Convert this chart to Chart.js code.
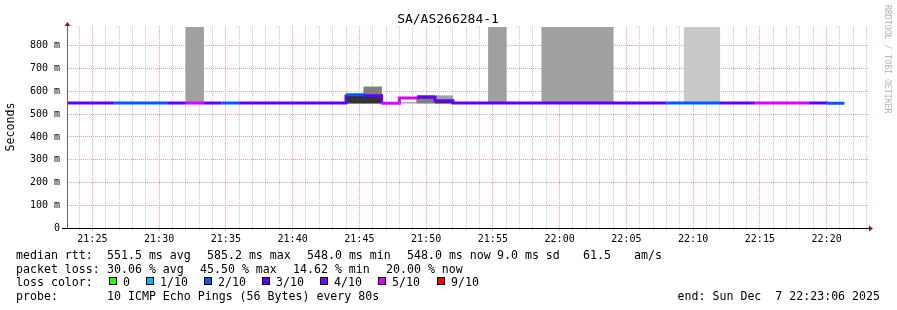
<!DOCTYPE html>
<html lang="pt-BR">
<head>
<meta charset="utf-8">
<title>SA/AS266284-1</title>
<script src="https://cdn.jsdelivr.net/npm/chart.js@4.4.1/dist/chart.umd.min.js"></script>
<style>
    html, body { margin: 0; padding: 0; background: #ffffff; }
    canvas { display: block; }
</style>
</head>
<body>
<canvas id="grafico-smokeping" width="897" height="310"></canvas>
<script>
// Dados (um passo a cada 80 s)
const titulo = 'SA/AS266284-1';
const inicioPassos = '21:22:40';
const passoSegundos = 80;
const inicioGrafico = '21:23:06';
const fimGrafico = '22:23:06';

// mediana do rtt em ms, por passo
const medianaRtt = [
    549, 549, 549, 549, 549, 549, 549, 549, 549, 549, 549,
    549, 549, 549, 549, 549, 585, 581, 548, 571, 574, 559,
    549, 549, 549, 549, 549, 549, 549, 549, 549, 549, 549,
    549, 549, 549, 549, 549, 549, 549, 549, 549, 549, 548
];

// pings perdidos (de 10), por passo
const perdaDecimos = [
    3, 3, 3, 2, 2, 2, 3, 5, 3, 2, 3,
    3, 3, 3, 3, 3, 2, 3, 5, 5, 3, 3,
    3, 3, 3, 3, 3, 3, 3, 3, 3, 3, 3,
    3, 2, 2, 2, 3, 3, 5, 5, 5, 3, 2
];

// fumaça: [passo, ms baixo, ms alto]
const fumacaEscura = [[16, 548, 585], [17, 548, 581], [21, 548, 559]];
const fumacaMedia = [[17, 581, 620], [20, 548, 583]];
const fumacaCinza = [[7, 549, 1450], [21, 559, 581], [24, 549, 1300], [27, 549, 1600], [28, 549, 1550], [29, 549, 1500], [30, 549, 1650]];
const fumacaClara = [[35, 549, 1200], [36, 549, 1250]];
const fumacaBranca = [[19, 548, 571]];

const niveisPerda = [0, 1, 2, 3, 4, 5, 9];
const rotulosPerda = ['0', '1/10', '2/10', '3/10', '4/10', '5/10', '9/10'];
const coresPerda = ['#26ff00', '#00b8ff', '#0059ff', '#5e00ff', '#7e00ff', '#dd00ff', '#ff0000'];

const rotulosX = ['21:25', '21:30', '21:35', '21:40', '21:45', '21:50', '21:55', '22:00', '22:05', '22:10', '22:15', '22:20'];
const rotulosY = ['0', '100 m', '200 m', '300 m', '400 m', '500 m', '600 m', '700 m', '800 m'];
const maxY = 883;

const estatRtt = ['551.5 ms avg', '585.2 ms max', '548.0 ms min', '548.0 ms now', '9.0 ms sd', '61.5', 'am/s'];
const estatPerda = ['30.06 % avg', '45.50 % max', '14.62 % min', '20.00 % now'];
const textoSonda = '10 ICMP Echo Pings (56 Bytes) every 80s';
const textoFim = 'end: Sun Dec  7 22:23:06 2025';

const FONTE = '"DejaVu Sans Mono", monospace';
const COR_GRADE_MAIOR = 'rgb(248, 160, 160)';
const COR_GRADE_MENOR = 'rgb(200, 200, 200)';

function segundos(hora) {
    const [h, m, s = 0] = hora.split(':').map(Number);
    return h * 3600 + m * 60 + s;
}

const t0 = segundos(inicioPassos);
const xMin = segundos(inicioGrafico);
const xMax = segundos(fimGrafico);
const inicioDoPasso = i => t0 + i * passoSegundos;

/**
 * Cor da linha conforme a perda de pacotes
 * @param {number} perda - pings perdidos
 */
function corDaPerda(perda) {
    let cor = coresPerda[0];
    niveisPerda.forEach((n, j) => { if (perda >= n) cor = coresPerda[j]; });
    return cor;
}

const pontosMediana = medianaRtt.map((v, i) => ({ x: inicioDoPasso(i), y: v }));
pontosMediana.push({ x: inicioDoPasso(medianaRtt.length), y: medianaRtt[medianaRtt.length - 1] });

function datasetFumaca(lista, cor, borda) {
    return {
        type: 'bar',
        data: lista.map(([i, baixo, alto]) => ({ x: inicioDoPasso(i) + passoSegundos / 2, y: [baixo, alto] })),
        backgroundColor: cor,
        borderColor: borda || cor,
        borderWidth: borda ? 1 : 0,
        borderSkipped: false,
        grouped: false,
        barPercentage: 1,
        categoryPercentage: 1,
        clip: 0,
        order: 2
    };
}

// Desenha eixos, setas, títulos e a legenda do rodapé (estilo rrdtool)
const decoracaoRrd = {
    id: 'decoracaoRrd',
    afterDraw(chart) {
        const { ctx, chartArea: a } = chart;
        ctx.save();

        // eixos
        ctx.lineWidth = 1;
        ctx.strokeStyle = '#666';
        ctx.beginPath();
        ctx.moveTo(a.left + 0.5, a.bottom + 0.5);
        ctx.lineTo(a.left + 0.5, a.top - 3);
        ctx.stroke();
        ctx.strokeStyle = '#000';
        ctx.beginPath();
        ctx.moveTo(a.left - 5, a.bottom + 0.5);
        ctx.lineTo(a.right + 1, a.bottom + 0.5);
        ctx.stroke();

        // setas
        ctx.fillStyle = '#8b1a1a';
        ctx.beginPath();
        ctx.moveTo(a.right + 1, a.bottom - 2.5);
        ctx.lineTo(a.right + 5, a.bottom + 0.5);
        ctx.lineTo(a.right + 1, a.bottom + 3.5);
        ctx.fill();
        ctx.beginPath();
        ctx.moveTo(a.left - 2.5, a.top - 1);
        ctx.lineTo(a.left + 0.5, a.top - 5);
        ctx.lineTo(a.left + 3.5, a.top - 1);
        ctx.fill();

        // título
        ctx.fillStyle = '#000';
        ctx.font = '13px ' + FONTE;
        ctx.textAlign = 'center';
        ctx.textBaseline = 'alphabetic';
        ctx.fillText(titulo, 448, 23);

        // rótulo do eixo y
        ctx.save();
        ctx.translate(11, 127);
        ctx.rotate(-Math.PI / 2);
        ctx.font = '11.6px ' + FONTE;
        ctx.textBaseline = 'middle';
        ctx.fillText('Seconds', 0, 0);
        ctx.restore();

        // marca d'água
        ctx.save();
        ctx.translate(887, 5);
        ctx.rotate(Math.PI / 2);
        ctx.font = '8.2px ' + FONTE;
        ctx.fillStyle = '#b4b4b4';
        ctx.textAlign = 'left';
        ctx.textBaseline = 'middle';
        ctx.fillText('RRDTOOL / TOBI OETIKER', 0, 0);
        ctx.restore();

        // rodapé
        ctx.font = '11.6px ' + FONTE;
        ctx.fillStyle = '#000';
        ctx.textAlign = 'left';
        ctx.textBaseline = 'alphabetic';
        const linhas = [259, 272.6, 286.2, 300];

        ctx.fillText('median rtt:', 16, linhas[0]);
        [107, 207, 307, 407, 497, 583, 634].forEach((x, j) => ctx.fillText(estatRtt[j], x, linhas[0]));

        ctx.fillText('packet loss:', 16, linhas[1]);
        [107, 200, 293, 386].forEach((x, j) => ctx.fillText(estatPerda[j], x, linhas[1]));

        ctx.fillText('loss color:', 16, linhas[2]);
        [109, 146, 204, 262, 320, 378, 437].forEach((x, j) => {
            ctx.fillStyle = coresPerda[j];
            ctx.fillRect(x, 277, 8, 8);
            ctx.strokeStyle = '#000';
            ctx.strokeRect(x + 0.5, 277.5, 7, 7);
            ctx.fillStyle = '#000';
            ctx.fillText(rotulosPerda[j], x + 14, linhas[2]);
        });

        ctx.fillText('probe:', 16, linhas[3]);
        ctx.fillText(textoSonda, 107, linhas[3]);
        ctx.textAlign = 'right';
        ctx.fillText(textoFim, 880, linhas[3]);

        ctx.restore();
    }
};

const fonteEixo = { family: FONTE, size: 10 };

var grafico = new Chart(document.getElementById('grafico-smokeping'), {
    type: 'line',
    data: {
        datasets: [
            {
                type: 'line',
                data: pontosMediana,
                borderColor: corDaPerda(perdaDecimos[0]),
                borderWidth: 3,
                stepped: true,
                pointRadius: 0,
                borderCapStyle: 'butt',
                clip: 0,
                segment: {
                    borderColor: ctx => corDaPerda(perdaDecimos[ctx.p0DataIndex])
                },
                order: 1
            },
            datasetFumaca(fumacaCinza, '#a0a0a0'),
            datasetFumaca(fumacaClara, '#c8c8c8'),
            datasetFumaca(fumacaMedia, '#7f7f7f'),
            datasetFumaca(fumacaEscura, '#333333'),
            datasetFumaca(fumacaBranca, '#ffffff', '#555555')
        ]
    },
    options: {
        responsive: false,
        animation: false,
        devicePixelRatio: 1,
        layout: { padding: { top: 27, right: 29, bottom: 62, left: 0 } },
        plugins: {
            legend: { display: false },
            tooltip: { enabled: false },
            title: { display: false }
        },
        scales: {
            x: {
                type: 'linear',
                position: 'bottom',
                min: xMin,
                max: xMax,
                offset: false,
                weight: 2,
                afterBuildTicks: s => { s.ticks = rotulosX.map(r => ({ value: segundos(r) })); },
                afterFit: s => { s.height = 20; },
                ticks: {
                    autoSkip: false,
                    maxRotation: 0,
                    padding: 2,
                    color: '#000',
                    font: fonteEixo,
                    callback: (v, i) => rotulosX[i]
                },
                grid: { color: COR_GRADE_MAIOR, tickColor: COR_GRADE_MAIOR, tickLength: 3, offset: false },
                border: { display: false, dash: [1, 1] }
            },
            xm: {
                type: 'linear',
                axis: 'x',
                position: 'bottom',
                min: xMin,
                max: xMax,
                offset: false,
                weight: 1,
                afterBuildTicks: s => {
                    const t = [];
                    for (let v = Math.ceil(xMin / 60) * 60; v <= xMax; v += 60) {
                        if (v % 300 !== 0) t.push({ value: v });
                    }
                    s.ticks = t;
                },
                afterFit: s => { s.height = 0; },
                ticks: { display: false },
                grid: { color: COR_GRADE_MENOR, tickColor: COR_GRADE_MENOR, tickLength: 2, offset: false },
                border: { display: false, dash: [1, 1] }
            },
            y: {
                type: 'linear',
                min: 0,
                max: maxY,
                afterBuildTicks: s => {
                    const t = [];
                    for (let v = 0; v <= maxY; v += 50) t.push({ value: v });
                    s.ticks = t;
                },
                afterFit: s => { s.width = 67; },
                ticks: {
                    padding: 7,
                    color: '#000',
                    font: fonteEixo,
                    callback: v => (v % 100 === 0 ? rotulosY[v / 100] : '')
                },
                grid: {
                    color: ctx => (ctx.tick && ctx.tick.value % 100 === 0 ? COR_GRADE_MAIOR : COR_GRADE_MENOR),
                    drawTicks: false
                },
                border: { display: false, dash: [1, 1] }
            }
        }
    },
    plugins: [decoracaoRrd]
});
</script>
</body>
</html>
